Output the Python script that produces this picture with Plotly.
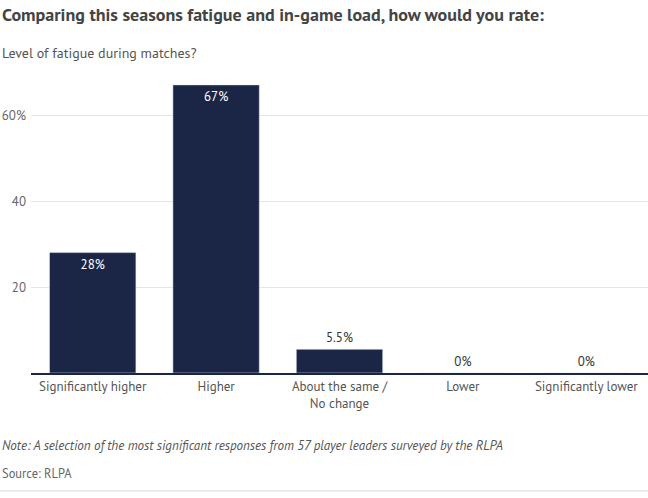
import plotly.graph_objects as go

categories = ["Significantly higher", "Higher", "About the same /<br>No change", "Lower", "Significantly lower"]
values = [28, 67, 5.5, 0, 0]
labels = ["28%", "67%", "5.5%", "0%", "0%"]
tick_vals = [20, 40, 60]
tick_text = ["20", "40", "60%"]

FONT = "PT Sans, Liberation Sans Narrow, Roboto Condensed, Noto Sans, sans-serif"
NARROW = "Liberation Sans Narrow, PT Sans, sans-serif"
W, H = 648, 498
L, R, T, B = 31, 0, 72, 125
PH = H - T - B
PW = W - L - R

def py(p):
    return (H - B - p) / PH

def px(p):
    return (p - L) / PW

positions = ["inside" if v > 15 else "outside" for v in values]
text_colors = ["white" if v > 15 else "#333333" for v in values]

fig = go.Figure(go.Bar(
    x=categories, y=values, text=labels, textposition=positions,
    insidetextanchor="end", marker_color="#1b2647",
    textfont=dict(family=NARROW, size=13, color=text_colors),
    cliponaxis=False, hoverinfo="skip",
))

fig.update_layout(
    width=W, height=H, margin=dict(l=L, r=R, t=T, b=B),
    paper_bgcolor="white", plot_bgcolor="white",
    bargap=0.3, showlegend=False,
    font=dict(family=FONT, color="#555555"),
    xaxis=dict(showgrid=False, showline=True, linecolor="#1b2647", linewidth=2,
               tickfont=dict(size=13, color="#555555", family=NARROW), ticks="", fixedrange=True),
    yaxis=dict(range=[0, 70], tickvals=tick_vals, ticktext=tick_text,
               showgrid=True, gridcolor="#e6e6e6", gridwidth=1, zeroline=False,
               tickfont=dict(size=13, color="#666666", family=NARROW), ticks="", ticklabelstandoff=4),
    annotations=[
        dict(text="<b>Comparing this seasons fatigue and in-game load, how would you rate:</b>",
             xref="paper", yref="paper", x=px(0), y=py(14), xanchor="left", yanchor="middle",
             showarrow=False, font=dict(size=18, color="#444444", family=FONT)),
        dict(text="Level of fatigue during matches?",
             xref="paper", yref="paper", x=px(0), y=py(53), xanchor="left", yanchor="middle",
             showarrow=False, font=dict(size=14, color="#555555", family=FONT)),
        dict(text="<i>Note: A selection of the most significant responses from 57 player leaders surveyed by the RLPA</i>",
             xref="paper", yref="paper", x=px(0), y=py(445), xanchor="left", yanchor="middle",
             showarrow=False, font=dict(size=13, color="#555555", family=NARROW)),
        dict(text="Source: RLPA",
             xref="paper", yref="paper", x=px(0), y=py(473), xanchor="left", yanchor="middle",
             showarrow=False, font=dict(size=12.5, color="#666666", family=NARROW)),
    ],
    shapes=[dict(type="line", xref="paper", yref="paper", x0=px(0), x1=1, y0=py(491), y1=py(491),
                 line=dict(color="#d9d9d9", width=1))],
)

fig.write_html("out.html")
